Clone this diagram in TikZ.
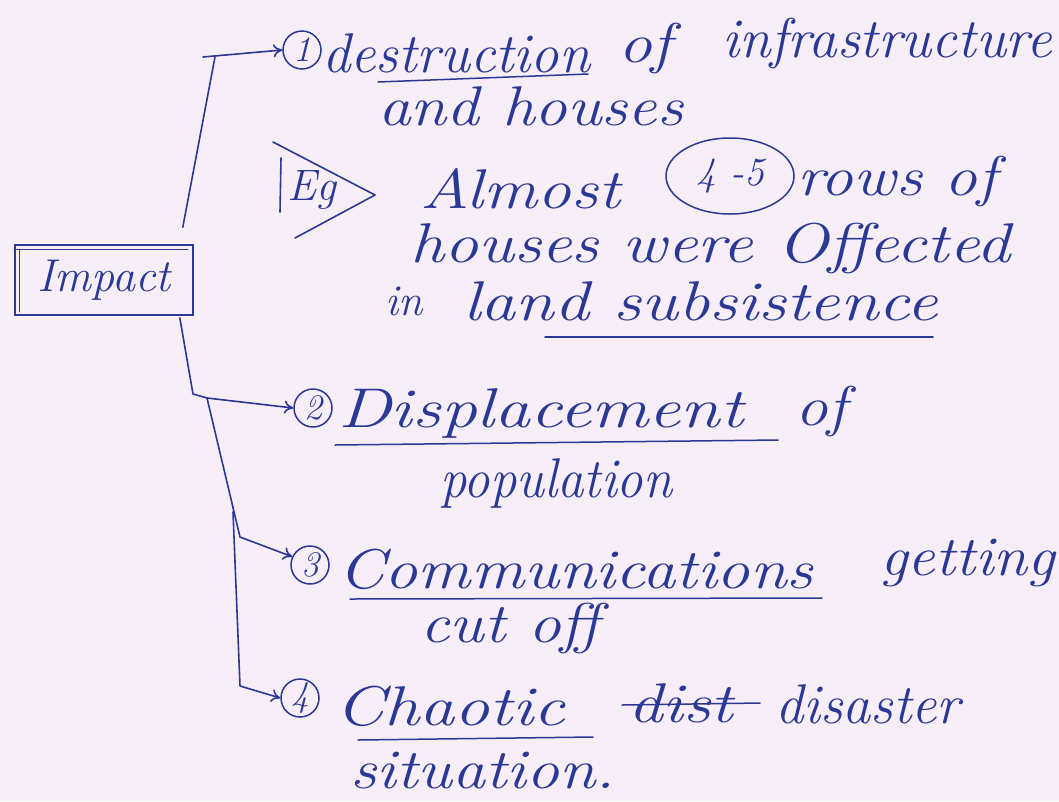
\documentclass[tikz,border=0pt]{standalone}
\usetikzlibrary{arrows.meta,shapes.geometric}
\definecolor{ink}{RGB}{42,56,150}
\definecolor{paper}{RGB}{248,238,248}
% stretch a word to a given width, keeping its height
\newcommand{\spanto}[2]{\resizebox{#1pt}{\height}{#2}}
\begin{document}
\begin{tikzpicture}[x=1pt,y=-1pt,
  hand/.style={text=ink, font=\fontsize{56}{62}\selectfont\itshape, inner sep=0pt, anchor=base west},
  small/.style={hand, font=\fontsize{44}{48}\selectfont\itshape},
  num/.style={draw=ink, line width=1.5pt, circle, minimum size=38pt, inner sep=0pt,
              text=ink, font=\fontsize{36}{38}\selectfont\itshape},
  conn/.style={draw=ink, line width=1.6pt, line cap=round, line join=round},
  tip/.style={conn, -{To[length=9pt,width=13pt,line width=1.6pt]}},
  uline/.style={conn, line width=1.5pt}]
\fill[paper] (0,0) rectangle (1059,801);
\useasboundingbox (0,0) rectangle (1059,801);

% root box
\node[draw=ink, line width=1.6pt, minimum width=178pt, minimum height=70pt, inner sep=0pt,
      text=ink, font=\fontsize{46}{50}\selectfont\itshape] (impact) at (104,280) {Impact};
\draw[conn, line width=1.2pt] ([yshift=-5pt]impact.north west) -- ([yshift=-5pt,xshift=-6pt]impact.north east);
\draw[conn, line width=1.2pt] ([xshift=5pt,yshift=-5pt]impact.north west) -- ([xshift=5pt,yshift=4pt]impact.south west);

% numbered markers
\node[num] (n1) at (302,50) {1};
\node[num] (n2) at (313,408) {2};
\node[num] (n3) at (310,565) {3};
\node[num] (n4) at (300,698) {4};

% branch points
\coordinate (k1) at (215,57);
\coordinate (t1) at (203,57);
\coordinate (b2) at (193,394);
\coordinate (j2) at (207,398);
\coordinate (j3) at (240,537);
\coordinate (s4) at (233,512);
\coordinate (j4) at (240,686);

% connectors
\draw[conn] ([xshift=-11pt,yshift=17pt]impact.north east) -- (k1);
\draw[tip] (t1) -- (n1.west);
\draw[conn] ([xshift=-14pt,yshift=-2pt]impact.south east) -- (b2) -- (j2);
\draw[tip] (j2) -- (n2.west);
\draw[tip] (j2) -- (j3) -- (n3.155);
\draw[tip] (s4) -- (j4) -- (n4.west);

% item 1
\node[hand] (d1) at (322,72) {\spanto{268}{destruction}};
\node[hand] (d2) at (618,62) {\spanto{54}{of}};
\node[hand] (d3) at (722,57) {\spanto{330}{infrastructure}};
\node[hand] (d4) at (378,125) {\spanto{305}{and houses}};
\draw[uline] (378,82) -- (588,74);

% example
\node[small] (eg) at (287,200) {Eg};
\draw[conn] (273,142) -- (375,195) -- (295,238);
\draw[conn] (281,158) -- (280,212);
\node[hand] (e1) at (420,208) {\spanto{200}{Almost}};
\node[ellipse, draw=ink, line width=1.5pt, minimum width=128pt, minimum height=76pt, inner sep=0pt,
      text=ink, font=\fontsize{40}{44}\selectfont\itshape] (e2) at (730,176) {4 -5};
\node[hand] (e3) at (797,195) {\spanto{200}{rows of}};
\node[hand] (e4) at (410,262) {\spanto{600}{houses were Offected}};
\node[hand, font=\fontsize{44}{48}\selectfont\itshape] (e5) at (385,315) {in};
\node[hand] (e6) at (463,320) {\spanto{475}{land subsistence}};
\draw[uline] (545,337) -- (933,337);

% item 2
\node[hand] (p1) at (338,427) {\spanto{405}{Displacement}};
\node[hand] (p2) at (795,425) {\spanto{52}{of}};
\node[hand] (p3) at (440,497) {\spanto{232}{population}};
\draw[uline] (335,445) -- (778,440);

% item 3
\node[hand] (c1) at (338,588) {\spanto{475}{Communications}};
\node[hand] (c2) at (880,575) {\spanto{175}{getting}};
\node[hand] (c3) at (420,642) {\spanto{180}{cut off}};
\draw[uline] (350,599) -- (822,598);

% item 4
\node[hand] (h1) at (335,725) {\spanto{230}{Chaotic}};
\node[hand] (h2) at (628,722) {\spanto{105}{dist}};
\draw[uline] (622,705) -- (760,703);
\node[hand] (h3) at (775,723) {\spanto{185}{disaster}};
\node[hand] (h4) at (350,788) {\spanto{265}{situation.}};
\draw[uline] (358,740) -- (593,737);
\end{tikzpicture}
\end{document}
